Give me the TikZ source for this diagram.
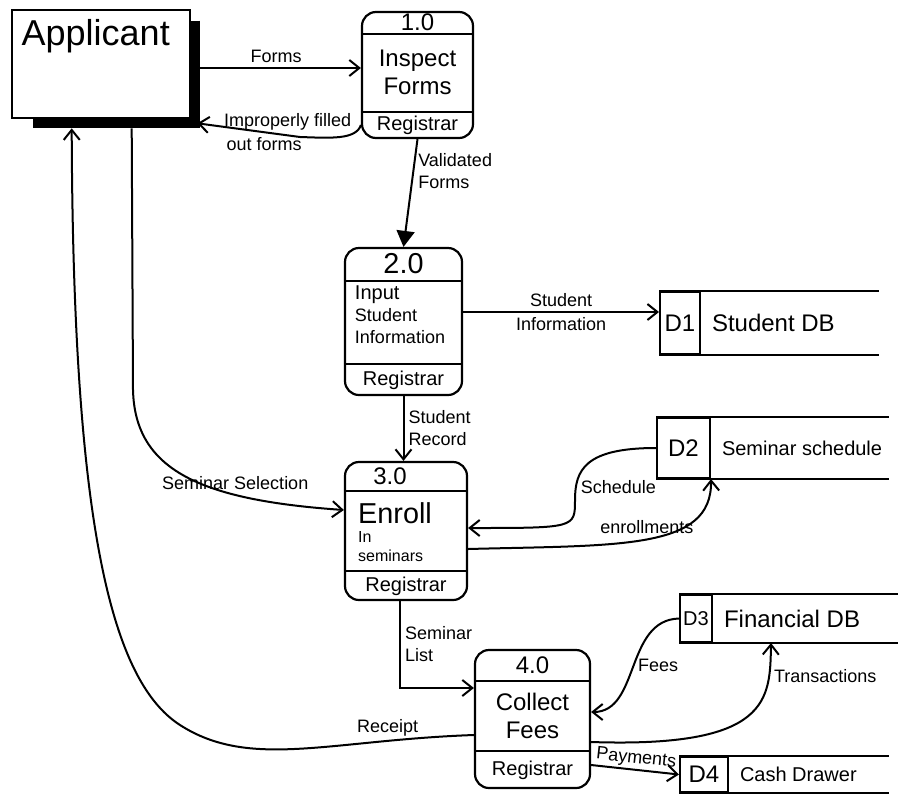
\documentclass[tikz,border=0pt]{standalone}
\usepackage{fontspec}
\setmainfont{Liberation Sans}
\usetikzlibrary{arrows.meta,positioning}

\begin{document}
\begin{tikzpicture}[x=0.5pt, y=-0.5pt, line width=1pt,
      entity/.style={rectangle, draw, line width=1.3pt, minimum width=89pt, minimum height=54pt},
      process/.style={rectangle, draw, rounded corners=7pt, line width=1.1pt},
      num/.style={anchor=north, inner sep=0pt, font=\large},
      who/.style={anchor=south, inner sep=0pt},
      storeid/.style={rectangle, draw, inner sep=1pt, font=\large},
      storename/.style={font=\large, inner sep=1pt},
      flow/.style={-{Straight Barb[length=5pt, width=8pt]}},
      flowfill/.style={-{Triangle[length=8pt, width=9pt]}},
      lbl/.style={font=\small, align=left, inner sep=2pt}]
      \useasboundingbox (0,0) rectangle (899,793);
      % external entity
      \node[entity, label={[anchor=north west, font=\fontsize{18}{20}\selectfont, inner sep=5pt]north west:Applicant}] (app) at (101,64) {};
      \draw[line width=4.5pt] ([shift={(4,12)}]app.north east) -- ([shift={(4,4)}]app.south east) -- ([shift={(22,4)}]app.south west);
      % processes
      \node[process, minimum width=55.5pt, minimum height=63pt] (p1) at (417.5,75) {};
      \node[num, minimum height=10.5pt] (p1-num) at (p1.north) {1.0};
      \node[who, minimum height=12.5pt] (p1-who) at (p1.south) {Registrar};
      \node[font=\large, align=center] (p1-name) at (417.5,72) {Inspect\\Forms};
      \node[process, minimum width=58.5pt, minimum height=73.5pt] (p2) at (403.5,321.5) {};
      \node[num, minimum height=16pt, font=\Large] (p2-num) at (p2.north) {2.0};
      \node[who, minimum height=15pt] (p2-who) at (p2.south) {Registrar};
      \node[font=\small, align=left] (p2-name) at (400,315) {{\normalsize Input}\\Student\\Information};
      \node[process, minimum width=61pt, minimum height=69pt] (p3) at (406,531) {};
      \node[num, minimum height=14pt] (p3-num) at ([xshift=-8pt]p3.north) {3.0};
      \node[who, minimum height=14pt] (p3-who) at (p3.south) {Registrar};
      \node[font=\footnotesize, align=left] (p3-name) at (395,532) {{\Large Enroll}\\In\\seminars};
      \node[process, minimum width=57.5pt, minimum height=69pt] (p4) at (532.5,719) {};
      \node[num, minimum height=15pt] (p4-num) at (p4.north) {4.0};
      \node[who, minimum height=18pt] (p4-who) at (p4.south) {Registrar};
      \node[font=\large, align=center] (p4-name) at (532.5,716) {Collect\\Fees};
      \foreach \p in {p1,p2,p3,p4} {
        \draw (\p.west |- \p-num.south) -- (\p.east |- \p-num.south);
        \draw (\p.west |- \p-who.north) -- (\p.east |- \p-who.north);
      }
      % data stores
      \node[storeid, minimum width=20pt, minimum height=31pt] (d1) at (680,323) {D1};
      \node[storename, right=4pt of d1] (d1-name) {Student DB};
      \node[storeid, minimum width=26.5pt, minimum height=30pt] (d2) at (683.5,448) {D2};
      \node[storename, right=4pt of d2, font=\normalsize] (d2-name) {Seminar schedule};
      \node[storeid, minimum width=16pt, minimum height=23.5pt, font=\normalsize] (d3) at (696,618.5) {D3};
      \node[storename, right=4pt of d3] (d3-name) {Financial DB};
      \node[storeid, minimum width=24pt, minimum height=17.5pt] (d4) at (704,774.5) {D4};
      \node[storename, right=4pt of d4, font=\normalsize] (d4-name) {Cash Drawer};
      \foreach \d/\len in {d1/220, d2/233, d3/219, d4/210} {
        \draw (\d.north west) -- ++(\len,0);
        \draw (\d.south west) -- ++(\len,0);
      }
      % data flows
      \draw[flow] (app.east |- 0,68) -- node[lbl, above] {Forms} (p1.west |- 0,68);
      \draw[flow] (p1.west |- 0,125) .. controls (356,140) and (330,138) .. (300,137)
        -- node[lbl, above, pos=0.12] {Improperly filled} node[lbl, below, pos=0.35] {out forms} ([shift={(6,4)}]app.south east);
      \draw[flowfill] (p1.south) -- node[lbl, right, pos=0.3] {Validated\\Forms} (p2.north);
      \draw[flow] (p2.east |- 0,312) -- node[lbl, above] {Student} node[lbl, below] {Information} (d1.west |- 0,312);
      \draw[flow] (p2.south) -- node[lbl, right] {Student\\Record} (p2.south |- p3.north);
      \draw[flow] ([shift={(121,9)}]app.south west) -- (133,390) .. controls (135,470) and (200,500) .. node[lbl, above, pos=0.7] {Seminar Selection} (p3.west |- 0,510);
      \draw[flow] (d2.west) .. controls (585,448) and (575,470) .. node[lbl, right, pos=0.85] {Schedule} (575,500) .. controls (575,528) .. (p3.east |- 0,528);
      \draw[flow] (p3.east |- 0,549) .. controls (620,545) and (712,550) .. node[lbl, above, pos=0.5] {enrollments} (d2.south east);
      \draw[flow] ([xshift=-3pt]p3.south) |- node[lbl, right, pos=0.25] {Seminar\\List} ([yshift=15.5pt]p4.west);
      \draw[flow] (d3.west) .. controls (625,620) and (640,712) .. node[lbl, right, pos=0.5] {Fees} (p4.east |- 0,712);
      \draw[flow] (p4.east |- 0,742) .. controls (770,748) and (770,700) .. node[lbl, right, pos=0.8] {Transactions} ([xshift=29pt]d3.south east);
      \draw[flow] (p4.east |- 0,765) -- node[lbl, above, sloped, inner sep=1pt] {Payments} (d4.west);
      \draw[flow] (p4.west |- 0,735) .. controls (330,740) and (250,770) .. node[lbl, above, pos=0.22] {Receipt} (180,725)
        .. controls (110,680) and (73,520) .. ([shift={(61,9)}]app.south west);
    \end{tikzpicture}
\end{document}
